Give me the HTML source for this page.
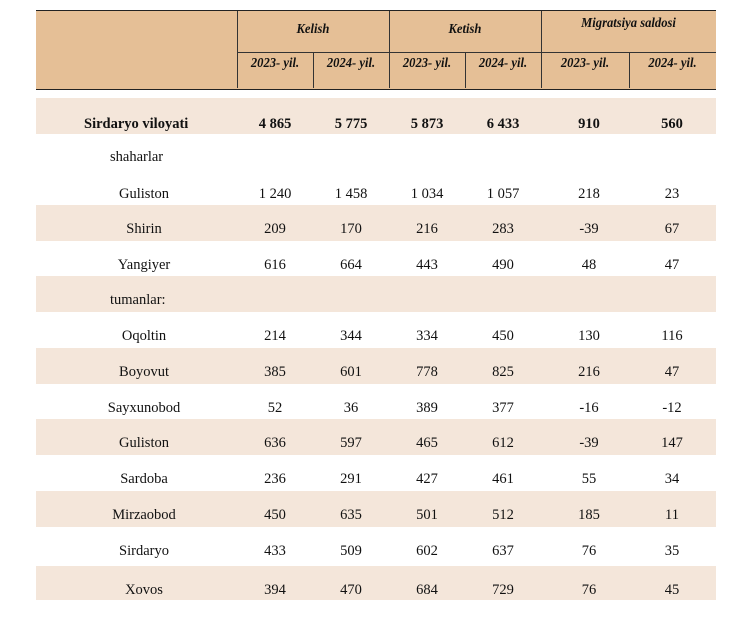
<!DOCTYPE html>
<html><head><meta charset="utf-8"><style>
body{margin:0;width:754px;height:623px;background:#fff;position:relative;overflow:hidden;font-family:"Liberation Serif",serif;color:#111}
.hdr{position:absolute;left:36px;top:10px;width:680px;height:78px;background:#e5bf96;border-top:1.5px solid #222;border-bottom:1.5px solid #222}
.vl{position:absolute;width:1px;background:#333}
.hl{position:absolute;height:1px;background:#333}
.ht{position:absolute;font-weight:bold;font-style:italic;font-size:14px;text-align:center;transform:scaleX(0.9)}
.band{position:absolute;left:36px;width:680px;background:#f4e6da}
.row{position:absolute;left:0;width:754px;height:20px;font-size:14.5px}
.row span{position:absolute;text-align:center;width:80px;margin-left:-40px}
.row .lbl{width:auto;margin-left:0}
</style></head><body>
<div class="hdr"></div>
<div class="vl" style="left:237px;top:11px;height:77px"></div>
<div class="hl" style="left:237px;top:52px;width:479px"></div>
<div class="vl" style="left:389px;top:11px;height:77px"></div>
<div class="vl" style="left:541px;top:11px;height:77px"></div>
<div class="vl" style="left:313px;top:52px;height:36px"></div>
<div class="vl" style="left:465px;top:52px;height:36px"></div>
<div class="vl" style="left:629px;top:52px;height:36px"></div>
<div class="ht" style="left:237px;width:152px;top:22px">Kelish</div>
<div class="ht" style="left:389px;width:152px;top:22px">Ketish</div>
<div class="ht" style="left:541px;width:175px;top:16px">Migratsiya saldosi</div>
<div class="ht" style="left:237px;width:76px;top:56px">2023- yil.</div>
<div class="ht" style="left:313px;width:76px;top:56px">2024- yil.</div>
<div class="ht" style="left:389px;width:76px;top:56px">2023- yil.</div>
<div class="ht" style="left:465px;width:76px;top:56px">2024- yil.</div>
<div class="ht" style="left:541px;width:88px;top:56px">2023- yil.</div>
<div class="ht" style="left:629px;width:87px;top:56px">2024- yil.</div>
<div class="band" style="top:98px;height:36px"></div>
<div class="band" style="top:205px;height:36px"></div>
<div class="band" style="top:276px;height:36px"></div>
<div class="band" style="top:348px;height:36px"></div>
<div class="band" style="top:419px;height:36px"></div>
<div class="band" style="top:491px;height:36px"></div>
<div class="band" style="top:566px;height:34px"></div>
<div id="rows"></div>
<script>
const labels=["Sirdaryo viloyati","shaharlar","Guliston","Shirin","Yangiyer","tumanlar:","Oqoltin","Boyovut","Sayxunobod","Guliston","Sardoba","Mirzaobod","Sirdaryo","Xovos"];
const kelish23=["4 865","","1 240","209","616","","214","385","52","636","236","450","433","394"];
const kelish24=["5 775","","1 458","170","664","","344","601","36","597","291","635","509","470"];
const ketish23=["5 873","","1 034","216","443","","334","778","389","465","427","501","602","684"];
const ketish24=["6 433","","1 057","283","490","","450","825","377","612","461","512","637","729"];
const saldo23=["910","","218","-39","48","","130","216","-16","-39","55","185","76","76"];
const saldo24=["560","","23","67","47","","116","47","-12","147","34","11","35","45"];
const tops=[116,149,186,221,257,292,328,364,400,435,471,507,543,582];
const cx=[275,351,427,503,589,672];
const cont=document.getElementById('rows');
labels.forEach((l,i)=>{
 const r=document.createElement('div');r.className='row';r.style.top=tops[i]+'px';
 
 
 if(i===0)r.style.fontWeight='bold';
 const s=document.createElement('span');s.className='lbl';s.textContent=l;
 
 
 if(i===0){s.style.left='84px';}else if(l==='shaharlar'||l==='tumanlar:'){s.style.left='110px';}else{s.style.left='144px';s.style.transform='translateX(-50%)';}
 r.appendChild(s);
 [kelish23,kelish24,ketish23,ketish24,saldo23,saldo24].forEach((arr,j)=>{
  const c=document.createElement('span');c.textContent=arr[i];c.style.left=cx[j]+'px';
  
  
  r.appendChild(c);
 });
 cont.appendChild(r);
});
</script>
</body></html>
